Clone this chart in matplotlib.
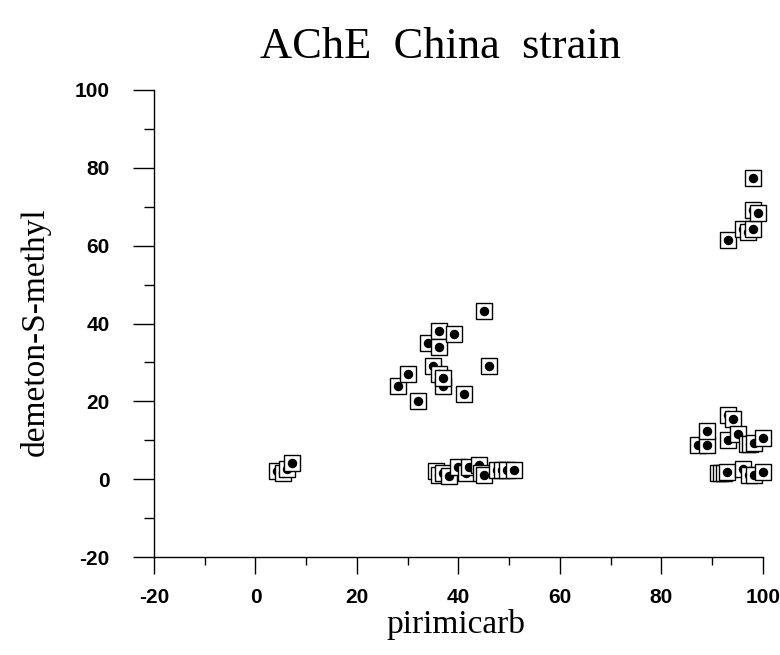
import matplotlib
matplotlib.use("Agg")
import matplotlib.pyplot as plt

# pirimicarb (x) and demeton-S-methyl (y) values
pirimicarb = [
    4.2, 5.4, 6.3, 7.2,
    28.0, 30.0, 32.1, 33.9, 35.0, 36.1, 36.1, 36.2, 37.0, 37.0, 39.1, 41.0, 45.1, 46.0,
    35.5, 36.2, 37.0, 38.1, 40.0, 41.5, 42.1, 44.0, 44.5, 45.1, 47.5, 48.5, 49.5, 51.0,
    93.2, 96.1, 97.0, 98.1, 98.1, 99.0, 98.0,
    87.1, 89.0, 89.0, 93.2, 93.2, 94.0, 95.1, 96.8, 97.5, 98.3, 100.0,
    91.1, 91.7, 92.3, 93.0, 96.0, 97.2, 98.2, 100.0,
]
demeton = [
    2.0, 1.5, 2.5, 4.2,
    24.0, 27.0, 20.1, 35.0, 29.1, 38.1, 34.0, 27.0, 24.0, 26.1, 37.2, 22.0, 43.2, 29.1,
    2.0, 1.0, 1.5, 0.8, 3.2, 1.5, 3.2, 3.6, 1.5, 1.2, 2.3, 2.3, 2.3, 2.3,
    61.4, 64.3, 63.6, 64.3, 69.2, 68.4, 77.3,
    8.7, 8.7, 12.3, 16.5, 10.0, 15.4, 11.7, 9.0, 9.0, 9.2, 10.5,
    1.5, 1.5, 1.5, 1.9, 2.7, 1.0, 1.0, 1.9,
]

x_ticks = [-20, 0, 20, 40, 60, 80, 100]
y_ticks = [-20, 0, 20, 40, 60, 80, 100]

fig = plt.figure(figsize=(7.8, 6.55), dpi=100)
ax = fig.add_axes([0.1974, 0.1496, 0.7808, 0.7130])

z = 3
for xv, yv in zip(pirimicarb, demeton):
    ax.plot(xv, yv, marker='s', ms=12, mfc='white', mec='black', mew=1.0,
            linestyle='none', clip_on=False, zorder=z)
    ax.plot(xv, yv, marker='o', ms=5.8, mfc='black', mec='black',
            linestyle='none', clip_on=False, zorder=z + 1)
    z += 2

ax.set_xlim(-20, 100)
ax.set_ylim(-20, 100)
ax.set_xticks(x_ticks)
ax.set_yticks(y_ticks)
ax.set_xticks(range(-10, 100, 20), minor=True)
ax.set_yticks(range(-10, 100, 20), minor=True)
ax.spines['top'].set_visible(False)
ax.spines['right'].set_visible(False)
for s in ('left', 'bottom'):
    ax.spines[s].set_linewidth(1.0)

tick_font = dict(family='Liberation Sans', weight='bold', size=15)
ax.set_xticklabels([str(t) for t in x_ticks], fontdict=tick_font)
ax.set_yticklabels([str(t) for t in y_ticks], fontdict=tick_font)
ax.tick_params(axis='y', which='major', length=15, width=1.0, pad=17)
ax.tick_params(axis='y', which='minor', length=7, width=1.0)
ax.tick_params(axis='x', which='major', length=12, width=1.0, pad=10)
ax.tick_params(axis='x', which='minor', length=6, width=1.0)

fig.text(0.565, 0.912, 'AChE  China  strain', family='Liberation Serif',
         size=32, ha='center', va='baseline')
fig.text(0.584, 0.047, 'pirimicarb', family='Liberation Serif', size=24,
         ha='center', va='center')
fig.text(0.045, 0.493, 'demeton-S-methyl', family='Liberation Serif', size=24,
         ha='center', va='center', rotation=90)

fig.savefig('out.png', dpi=100, facecolor='white')
